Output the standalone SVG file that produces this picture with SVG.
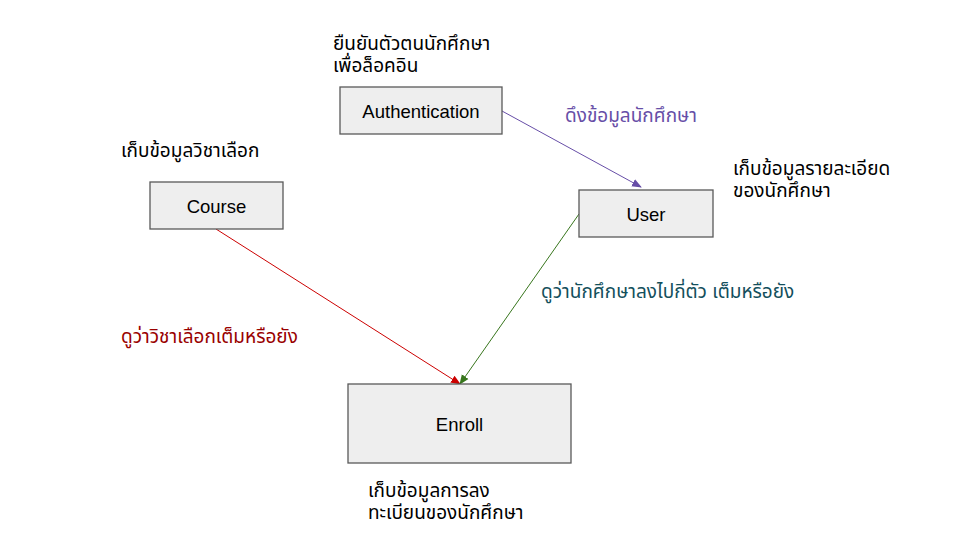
<svg xmlns="http://www.w3.org/2000/svg" width="960" height="540" viewBox="0 0 960 540">
<defs>
<style>
text{font-family:"Liberation Sans","Noto Sans Thai","Noto Sans",sans-serif;font-size:19px;fill:#000}
.box{fill:#eeeeee;stroke:#595959;stroke-width:1.3}
.lbl{text-anchor:middle;font-size:18.5px}
.c{fill:none;stroke-width:1}
</style>
<marker id="ap" viewBox="0 0 10 10" refX="9" refY="5" markerWidth="10" markerHeight="10" markerUnits="userSpaceOnUse" orient="auto"><path d="M0,1 L10,5 L0,9 z" fill="#674ea7"/></marker>
<marker id="ar" viewBox="0 0 10 10" refX="9" refY="5" markerWidth="10" markerHeight="10" markerUnits="userSpaceOnUse" orient="auto"><path d="M0,1 L10,5 L0,9 z" fill="#cc0000"/></marker>
<marker id="ag" viewBox="0 0 10 10" refX="9" refY="5" markerWidth="10" markerHeight="10" markerUnits="userSpaceOnUse" orient="auto"><path d="M0,1 L10,5 L0,9 z" fill="#38761d"/></marker>
</defs>
<rect width="960" height="540" fill="#ffffff"/>
<g id="connectors">
<line class="c" x1="502" y1="111" x2="641" y2="187" stroke="#674ea7" marker-end="url(#ap)"/>
<line class="c" x1="216" y1="229" x2="460" y2="384" stroke="#cc0000" marker-end="url(#ar)"/>
<line class="c" x1="579" y1="214" x2="460" y2="384" stroke="#38761d" marker-end="url(#ag)"/>
</g>
<g id="authentication">
<rect class="box" x="340" y="87" width="162" height="47"/>
<text class="lbl" x="421" y="117.5">Authentication</text>
</g>
<g id="course">
<rect class="box" x="150" y="182" width="133" height="47"/>
<text class="lbl" x="216.5" y="212.5">Course</text>
</g>
<g id="user">
<rect class="box" x="579" y="190" width="134" height="47"/>
<text class="lbl" x="646" y="220.5">User</text>
</g>
<g id="enroll">
<rect class="box" x="348" y="384" width="223" height="79"/>
<text class="lbl" x="459.5" y="430.5">Enroll</text>
</g>
<g id="notes">
<text x="333" y="50">ยืนยันตัวตนนักศึกษา</text>
<text x="333" y="72">เพื่อล็อคอิน</text>
<text x="121" y="157">เก็บข้อมูลวิชาเลือก</text>
<text x="733" y="175">เก็บข้อมูลรายละเอียด</text>
<text x="733" y="197">ของนักศึกษา</text>
<text x="368" y="497">เก็บข้อมูลการลง</text>
<text x="368" y="519">ทะเบียนของนักศึกษา</text>
</g>
<g id="edge-labels">
<text x="565" y="122" style="fill:#674ea7">ดึงข้อมูลนักศึกษา</text>
<text x="121" y="343" style="fill:#990000">ดูว่าวิชาเลือกเต็มหรือยัง</text>
<text x="541" y="298" style="fill:#134f5c">ดูว่านักศึกษาลงไปกี่ตัว เต็มหรือยัง</text>
</g>
</svg>
